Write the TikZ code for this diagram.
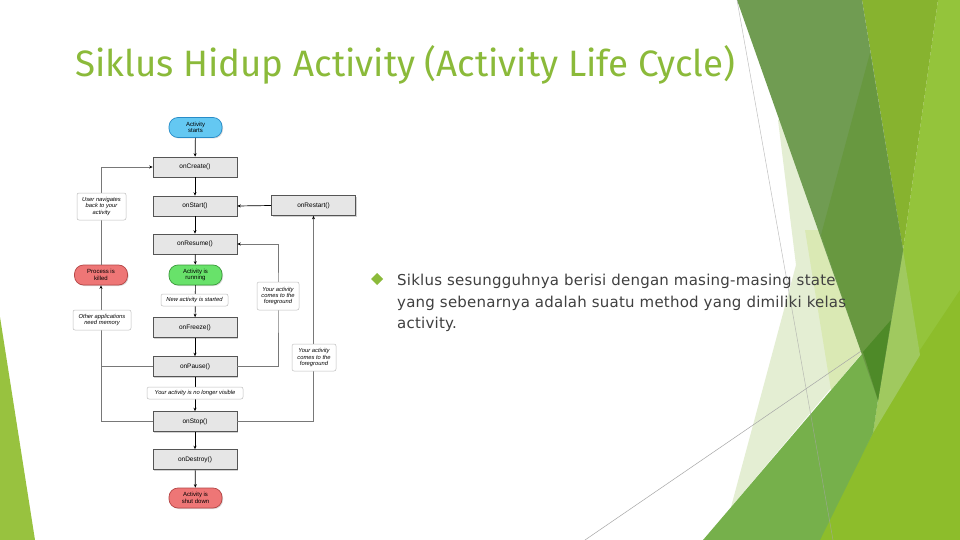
\documentclass[tikz,border=0pt]{standalone}
\usepackage{fontspec}
\setmainfont{DejaVu Sans}
\newfontfamily\titlefont{Fira Sans}
\newfontfamily\bodyfont[LetterSpace=1.5]{DejaVu Sans}
\newfontfamily\diagfont{Liberation Sans}
\usetikzlibrary{arrows.meta,shadows}
\definecolor{titlegreen}{RGB}{139,186,58}
\definecolor{bodygray}{RGB}{64,64,64}
\definecolor{boxfill}{RGB}{230,230,230}
\definecolor{boxborder}{RGB}{85,85,85}
\definecolor{notegray}{RGB}{190,190,190}
\definecolor{cyanfill}{RGB}{100,200,242}
\definecolor{cyanborder}{RGB}{40,140,200}
\definecolor{redfill}{RGB}{238,118,118}
\definecolor{redborder}{RGB}{180,70,70}
\definecolor{greenfill}{RGB}{104,226,106}
\definecolor{greenborder}{RGB}{60,155,60}
\definecolor{loopgray}{RGB}{120,120,120}
\definecolor{paleA}{RGB}{228,238,211}
\definecolor{paleB}{RGB}{218,233,180}
\definecolor{darkA}{RGB}{112,156,82}
\definecolor{darkB}{RGB}{104,152,64}
\definecolor{darkC}{RGB}{78,138,40}
\definecolor{yellowgreen}{RGB}{135,179,47}
\definecolor{brightgreen}{RGB}{148,196,59}
\definecolor{lightgreen}{RGB}{160,201,95}
\definecolor{lowgreen}{RGB}{141,189,43}
\definecolor{midgreen}{RGB}{118,176,75}
\definecolor{sliver}{RGB}{152,194,63}
\tikzset{
  proc/.style={draw=boxborder, fill=boxfill, line width=0.6pt, minimum width=84pt, minimum height=20pt, inner sep=0pt,
    font=\diagfont\fontsize{6.5}{7}\selectfont,
    drop shadow={shadow xshift=1.2pt, shadow yshift=-1.2pt, opacity=0.35}},
  pill/.style={rounded corners=9pt, line width=0.7pt, minimum width=53pt, minimum height=20pt, inner sep=0pt, align=center,
    font=\diagfont\fontsize{6}{6.6}\selectfont,
    drop shadow={shadow xshift=1pt, shadow yshift=-1pt, opacity=0.3}},
  note/.style={draw=notegray, fill=white, rounded corners=2pt, inner sep=1pt, align=center, line width=0.5pt,
    font=\diagfont\itshape\fontsize{5.8}{6.4}\selectfont},
  flow/.style={-{Stealth[length=3.5pt,width=3pt]}, line width=0.7pt, black},
  loopline/.style={line width=0.6pt, loopgray},
  looparrow/.style={-{Stealth[length=3.5pt,width=3pt,color=black]}, line width=0.6pt, loopgray},
  thinline/.style={line width=0.5pt, gray!70}
}
\begin{document}
\begin{tikzpicture}[x=1pt,y=-1pt]
\useasboundingbox[fill=white] (0,0) rectangle (960,540);
% ---- background facets ----
\fill[sliver] (0,317) -- (35,540) -- (0,540) -- cycle;
\fill[paleA] (778,120) -- (796,265) -- (731,507) -- (880,330) -- (820,120) -- cycle;
\fill[paleB] (805,230) -- (840,230) -- (863,352) -- (831,390) -- cycle;
\draw[thinline] (585,540) -- (870,345);
\fill[brightgreen] (938,0) -- (960,0) -- (960,540) -- (817,540) -- (873,433) -- (903,250) -- cycle;
\fill[lowgreen] (960,290) -- (918,353) -- (873,433) -- (817,540) -- (960,540) -- cycle;
\fill[lightgreen] (903,250) -- (920,355) -- (873,433) -- (878,400) -- cycle;
\fill[yellowgreen] (862,0) -- (938,0) -- (903,250) -- cycle;
\fill[midgreen] (703,540) -- (891,320) -- (878,400) -- (873,433) -- (820,540) -- cycle;
\fill[darkA] (737,0) -- (862,0) -- (903,250) -- (878,400) -- cycle;
\fill[darkB] (870,53) -- (903,250) -- (878,400) -- (821,235) -- cycle;
\fill[darkC] (863,352) -- (891,320) -- (878,400) -- cycle;
\draw[thinline, opacity=0.7] (737,0) -- (833,540);
% ---- title and text ----
\node[anchor=base west, inner sep=0pt, text=titlegreen, font=\titlefont\fontsize{36.7}{40}\selectfont] (title) at (75,77) {Siklus Hidup Activity (Activity Life Cycle)};
\fill[titlegreen] (377,273) -- (383,279) -- (377,285) -- (371,279) -- cycle;
\node[anchor=base west, inner sep=0pt, text=bodygray, font=\bodyfont\fontsize{15}{17}\selectfont] (l1) at (397,285) {Siklus sesungguhnya berisi dengan masing-masing state};
\node[anchor=base west, inner sep=0pt, text=bodygray, font=\bodyfont\fontsize{15}{17}\selectfont] (l2) at (397,307) {yang sebenarnya adalah suatu method yang dimiliki kelas};
\node[anchor=base west, inner sep=0pt, text=bodygray, font=\bodyfont\fontsize{15}{17}\selectfont] (l3) at (397,328) {activity.};
% ---- diagram nodes ----
\node[pill, draw=cyanborder, fill=cyanfill] (start) at (195.5,127.5) {Activity\\starts};
\node[proc] (create) at (195,167) {onCreate()};
\node[proc] (onstart) at (195,206) {onStart()};
\node[proc] (restart) at (313.5,205.5) {onRestart()};
\node[proc] (resume) at (195,244) {onResume()};
\node[pill, draw=redborder, fill=redfill] (killed) at (101,275) {Process is\\killed};
\node[pill, draw=greenborder, fill=greenfill] (running) at (195.5,275) {Activity is\\running};
\node[proc] (freeze) at (195,327.5) {onFreeze()};
\node[proc] (pause) at (195,366.5) {onPause()};
\node[proc] (stop) at (195,421.5) {onStop()};
\node[proc] (destroy) at (195,459.5) {onDestroy()};
\node[pill, draw=redborder, fill=redfill] (shut) at (195.5,498) {Activity is\\shut down};
\coordinate (rbend) at (278,300);
% ---- connectors ----
\draw[flow] (start) -- (create);
\draw[flow] (create) -- (onstart);
\draw[flow] (onstart) -- (resume);
\draw[flow] (resume) -- (running);
\draw[flow] (running) -- (freeze);
\draw[flow] (freeze) -- (pause);
\draw[flow] (pause) -- (stop);
\draw[flow] (stop) -- (destroy);
\draw[flow] (destroy) -- (shut);
\draw[flow] (restart.west) -- (onstart.east);
\draw[looparrow] (killed.north) |- (create.west);
\draw[loopline] (pause.west) -- (pause.west -| killed.south);
\draw[looparrow] (stop.west) -| (killed.south);
\draw[looparrow] (pause.east) -| (rbend) |- (resume.east);
\draw[looparrow] (stop.east) -| (restart.south);
% ---- notes ----
\node[note, minimum width=49pt, minimum height=27pt] (n1) at (101.5,206.5) {User navigates\\back to your\\activity};
\node[note, minimum width=67pt, minimum height=12pt] (n2) at (194.5,300) {New activity is started};
\node[note, minimum width=42pt, minimum height=28pt] (n3) at (278,296) {Your activity\\comes to the\\foreground};
\node[note, minimum width=58pt, minimum height=20pt] (n4) at (102,320) {Other applications\\need memory};
\node[note, minimum width=44pt, minimum height=27pt] (n5) at (314,357.5) {Your activity\\comes to the\\foreground};
\node[note, minimum width=96pt, minimum height=12pt] (n6) at (195,393) {Your activity is no longer visible};
\end{tikzpicture}
\end{document}
